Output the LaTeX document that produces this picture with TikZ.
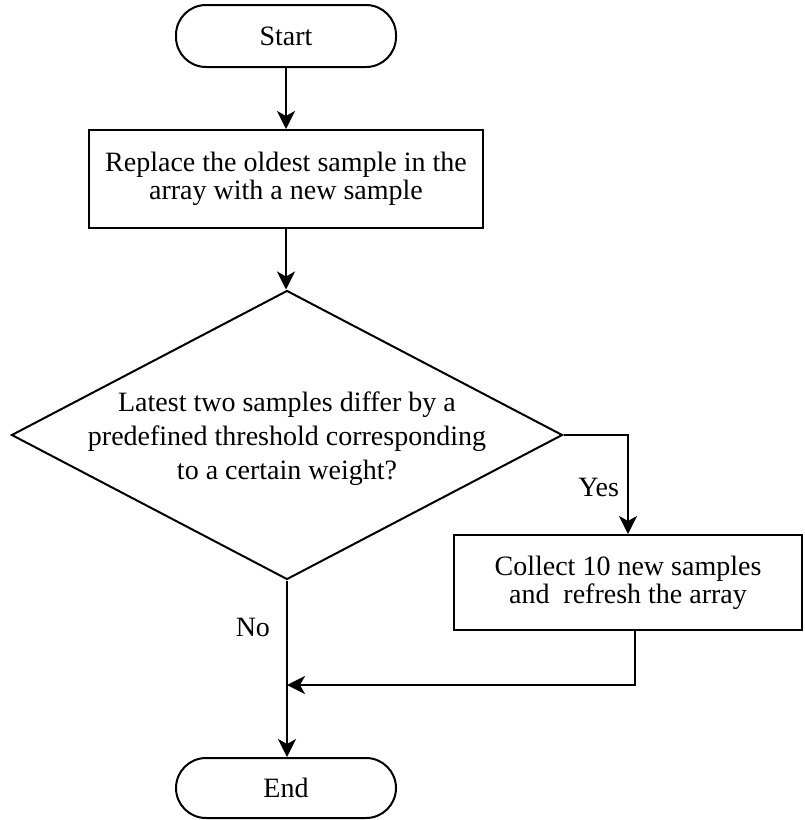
\documentclass[tikz,border=0pt]{standalone}
\usepackage{fontspec}
\setmainfont{Liberation Serif}
\usetikzlibrary{shapes.geometric,arrows.meta}
\begin{document}
\begin{tikzpicture}[x=1pt,y=-1pt,
  line width=2pt,
  box/.style={draw, rectangle, inner sep=0pt, align=center,
    font=\fontsize{28}{28}\selectfont},
  term/.style={draw, rectangle, rounded corners=30pt, inner sep=0pt,
    minimum width=220pt, font=\fontsize{28}{28}\selectfont},
  lbl/.style={inner sep=0pt, font=\fontsize{28}{30}\selectfont},
  arr/.style={-{Stealth[length=18pt,width=18pt,inset=5pt]}}]
\useasboundingbox (0,0) rectangle (804,820);

\node[term, minimum height=62pt] (start) at (286,36) {Start};
\node[box, minimum width=394pt, minimum height=98pt] (replace) at (286,179)
  {Replace the oldest sample in the\\array with a new sample};
\node[draw, diamond, inner sep=0pt, minimum width=551pt, minimum height=289pt] (dec) at (287,435) {};
\node[lbl, align=center, font=\fontsize{28}{34}\selectfont] (dectext) at (287,439)
  {Latest two samples differ by a\\predefined threshold corresponding\\to a certain weight?};
\node[box, minimum width=348pt, minimum height=95pt] (collect) at (628,582.5)
  {Collect 10 new samples\\and~ refresh the array};
\node[term, minimum height=60pt] (end) at (286,788) {End};

\node[lbl, anchor=east] (yes) at (620,487) {Yes};
\node[lbl, anchor=east] (no) at (271,627) {No};

\coordinate (cout) at ([xshift=7pt]collect.south);
\coordinate (merge) at (287,685);

\draw[arr] (start.south) -- (start.south |- replace.north);
\draw[arr] (replace.south) -- (replace.south |- dec.north);
\draw[arr] (dec.east) -| (collect.north);
\draw[arr] (dec.south) -- (dec.south |- end.north);
\draw[arr] (cout) |- (merge);
\end{tikzpicture}
\end{document}
